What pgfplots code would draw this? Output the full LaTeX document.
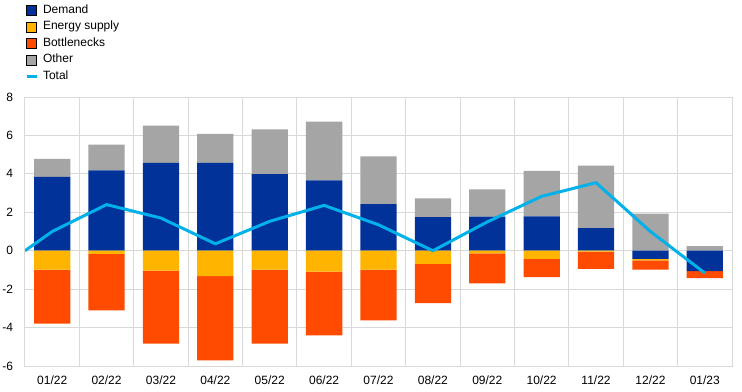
\documentclass[border=0pt]{standalone}
\usepackage{fontspec}
\setmainfont{Liberation Sans}
\usepackage{pgfplots}
\usepackage{pgfplotstable}
\pgfplotsset{compat=1.18}
\definecolor{cDemand}{HTML}{003299}
\definecolor{cEnergy}{HTML}{FFB400}
\definecolor{cBott}{HTML}{FF4B00}
\definecolor{cOther}{HTML}{A5A5A5}
\definecolor{cTotal}{HTML}{00B1EA}
\definecolor{cGrid}{HTML}{D9D9D9}

\pgfplotstableread{
x dpos dneg energy bott other
0 3.84 0 -0.99 -2.81 0.94
1 4.18 0 -0.17 -2.94 1.34
2 4.57 0 -1.04 -3.80 1.94
3 4.57 0 -1.32 -4.39 1.51
4 3.99 0 -0.99 -3.85 2.33
5 3.66 0 -1.09 -3.32 3.06
6 2.43 0 -0.99 -2.64 2.48
7 1.75 0 -0.68 -2.05 0.97
8 1.77 0 -0.14 -1.56 1.42
9 1.79 0 -0.42 -0.95 2.36
10 1.18 0 -0.05 -0.90 3.25
11 0 -0.42 -0.08 -0.49 1.93
12 0 -1.06 0 -0.36 0.24
}\bars

\pgfplotstableread{
x total
-0.5 0
0 1.00
1 2.40
2 1.70
3 0.36
4 1.53
5 2.36
6 1.35
7 0.00
8 1.50
9 2.83
10 3.54
11 1.00
12 -1.16
}\tot

\pgfplotsset{
  common/.style={
    scale only axis, width=707bp, height=269bp,
    at={(25bp,-366bp)}, anchor=south west,
    xmin=-0.5, xmax=12.5, ymin=-6, ymax=8,
    font=\fontsize{12bp}{14bp}\selectfont,
  },
  sq/.style={legend image code/.code={\fill[##1] (0bp,-5bp) rectangle (10bp,5bp);}},
  lineleg/.style={legend image code/.code={\draw[##1] (0bp,0bp) -- (10bp,0bp);}},
}

\begin{document}
\begin{tikzpicture}
\useasboundingbox (0,0) rectangle (742bp,-392bp);
\begin{axis}[common,
  ybar stacked, bar width=0.667,
  axis line style={cGrid, line width=1bp},
  major tick length=0pt, minor tick length=0pt,
  xtick={0,...,12},
  xticklabels={01/22,02/22,03/22,04/22,05/22,06/22,07/22,08/22,09/22,10/22,11/22,12/22,01/23},
  minor xtick={0.5,1.5,...,11.5},
  ytick={-6,-4,...,8},
  ymajorgrids, xminorgrids,
  grid style={cGrid, line width=1bp},
  minor grid style={cGrid, line width=1bp},
  /pgf/number format/assume math mode=true,
  yticklabel style={xshift=-8.5bp},
  xticklabel style={yshift=-6.5bp},
]
\addplot[fill=cDemand, draw=none] table[x=x,y=dpos]{\bars};
\addplot[fill=cOther, draw=none] table[x=x,y=other]{\bars};
\end{axis}
\begin{axis}[common, hide axis, ybar stacked, bar width=0.667]
\addplot[fill=cDemand, draw=none] table[x=x,y=dneg]{\bars};
\addplot[fill=cEnergy, draw=none] table[x=x,y=energy]{\bars};
\addplot[fill=cBott, draw=none] table[x=x,y=bott]{\bars};
\end{axis}
\begin{axis}[common, hide axis,
  legend style={draw=none, fill=none, inner sep=0pt, outer sep=0pt,
    at={(0,1)}, anchor=north west, yshift=92.7bp,
    nodes={inner sep=0pt, text height=9bp, text depth=3bp},
    row sep=4.5bp, column sep=5bp,
    font=\fontsize{12bp}{14bp}\selectfont},
  legend cell align=left,
]
\addlegendimage{sq, fill=cDemand}
\addlegendimage{sq, fill=cEnergy}
\addlegendimage{sq, fill=cBott}
\addlegendimage{sq, fill=cOther}
\addplot[cTotal, line width=3bp, line join=round, lineleg] table[x=x,y=total]{\tot};
\legend{Demand,Energy supply,Bottlenecks,Other,Total}
\end{axis}
\end{tikzpicture}
\end{document}
